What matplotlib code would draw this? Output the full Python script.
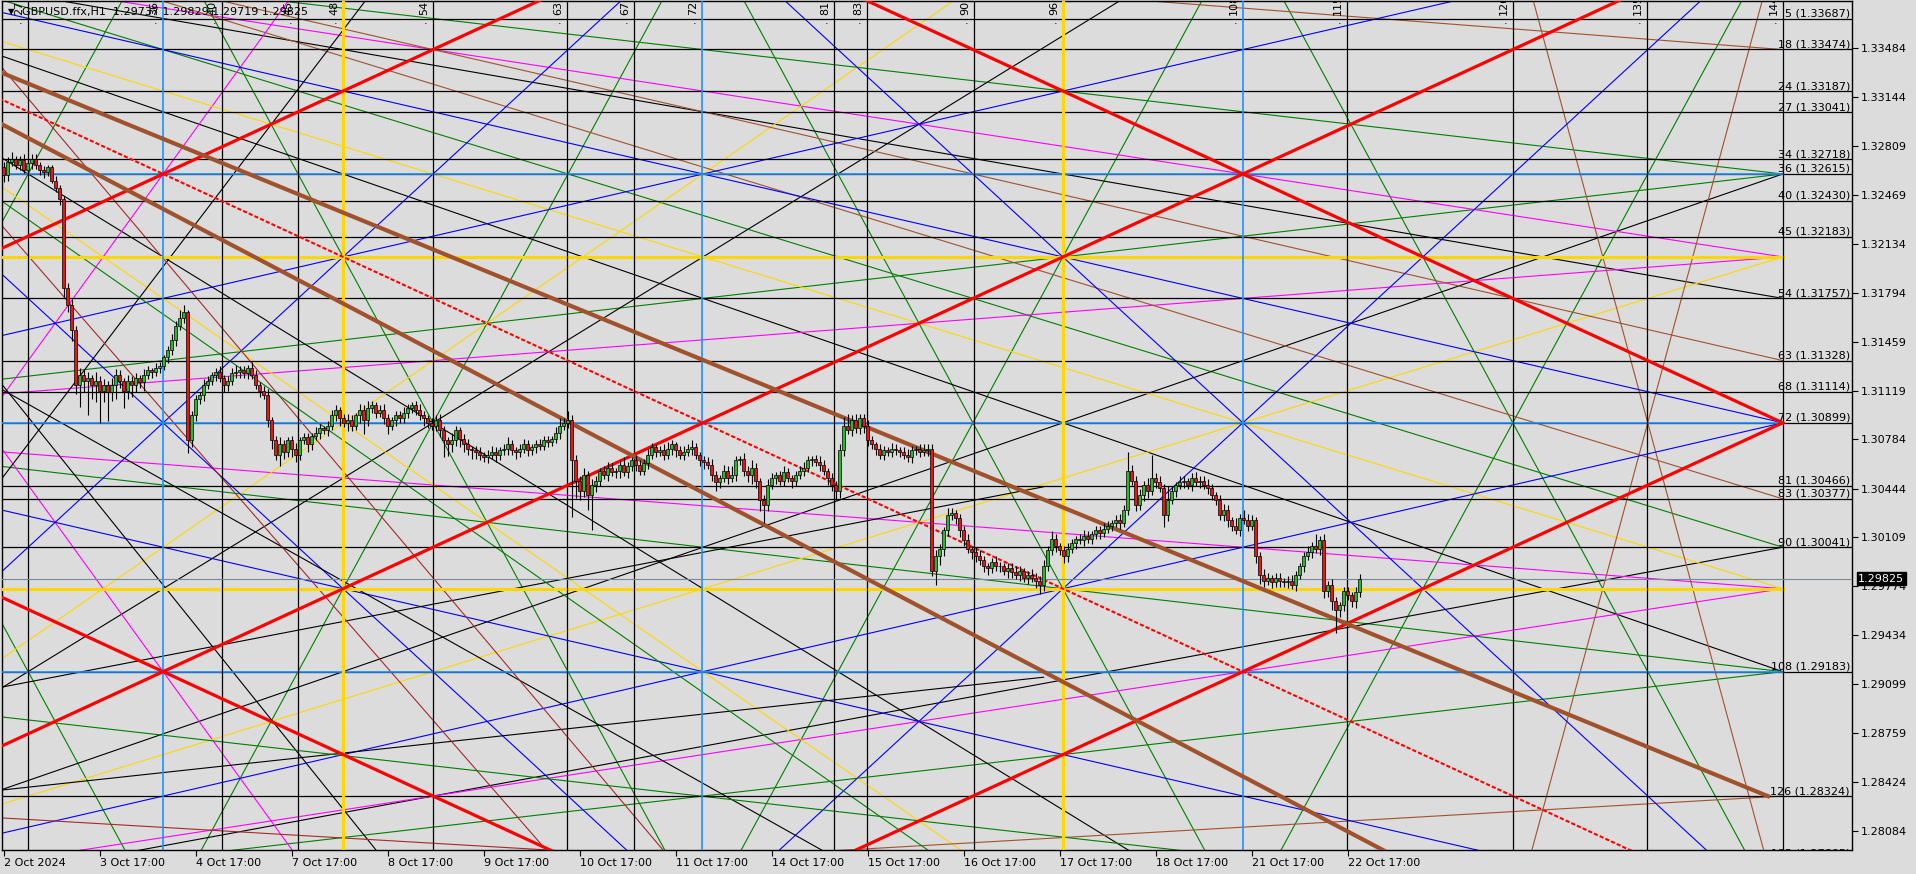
import numpy as np
import matplotlib
matplotlib.use('Agg')
import matplotlib.pyplot as plt

# ---- H1 candles, closes in pips above 1.3000 ----
closes_pips = [
    261, 270, 272, 268, 271, 264, 269, 272, 268, 264, 263, 266, 257, 252, 244, 183, 171, 154, 116, 123,
    119, 121, 116, 119, 112, 116, 111, 116, 123, 119, 112, 119, 116, 121, 118, 123, 126, 125, 128, 129,
    135, 140, 147, 157, 162, 166, 78, 95, 106, 109, 116, 119, 123, 125, 121, 116, 119, 124, 125, 126,
    124, 128, 123, 116, 112, 109, 92, 78, 68, 75, 70, 78, 72, 68, 78, 80, 75, 81, 83, 86,
    85, 88, 95, 99, 93, 90, 92, 88, 95, 99, 92, 100, 102, 97, 99, 93, 88, 92, 95, 93,
    97, 100, 102, 99, 95, 93, 90, 88, 92, 85, 78, 75, 78, 85, 79, 75, 72, 71, 70, 68,
    66, 68, 70, 68, 71, 72, 75, 71, 70, 72, 75, 71, 73, 75, 74, 78, 77, 79, 83, 88,
    90, 92, 64, 50, 43, 54, 40, 47, 50, 57, 54, 59, 56, 57, 61, 56, 60, 64, 61, 57,
    62, 68, 73, 70, 71, 68, 72, 75, 71, 68, 70, 72, 73, 68, 64, 63, 61, 54, 49, 52,
    57, 52, 54, 64, 65, 57, 54, 59, 50, 37, 33, 47, 52, 54, 50, 56, 52, 50, 54, 57,
    59, 64, 65, 63, 61, 57, 52, 47, 43, 71, 88, 85, 92, 86, 93, 88, 78, 75, 72, 68,
    71, 70, 72, 71, 70, 68, 66, 71, 72, 70, 71, 72, -12, -2, 3, 16, 26, 28, 24, 16,
    9, 3, 1, -2, -5, -9, -10, -6, -9, -9, -12, -10, -13, -15, -12, -17, -15, -17, -19, -22,
    -9, 2, 10, 5, 2, -2, 3, 7, 10, 9, 12, 10, 13, 16, 14, 17, 19, 21, 23, 21,
    30, 57, 50, 33, 40, 47, 43, 52, 49, 45, 26, 37, 43, 47, 49, 50, 47, 52, 49, 50,
    47, 45, 40, 37, 26, 30, 23, 19, 16, 24, 23, 19, 23, -2, -15, -19, -17, -20, -17, -19,
    -20, -19, -22, -15, -9, -2, 1, 5, 3, 9, -26, -22, -33, -39, -36, -26, -29, -33, -27, -17.5,
]
upper_wick = [
    4, 3, 5, 2, 3, 4, 2, 3, 3, 2, 3, 2, 2, 3, 2, 2, 3, 4, 3, 5,
    3, 4, 2, 6, 3, 4, 3, 5, 4, 3, 2, 4, 3, 3, 2, 4, 3, 2, 3, 3,
    2, 3, 4, 3, 6, 5, 2, 3, 3, 2, 4, 3, 2, 3, 4, 2, 3, 4, 5, 3,
    3, 2, 4, 3, 2, 3, 4, 2, 3, 5, 3, 2, 3, 4, 2, 3, 3, 2, 4, 3,
    2, 3, 4, 3, 2, 3, 4, 3, 2, 4, 3, 5, 3, 2, 3, 4, 3, 2, 3, 3,
    4, 3, 2, 3, 4, 3, 2, 3, 3, 4, 3, 2, 5, 3, 2, 3, 4, 2, 3, 3,
    2, 3, 4, 3, 2, 3, 5, 3, 2, 3, 4, 3, 2, 3, 4, 3, 3, 2, 4, 5,
    3, 6, 3, 4, 3, 5, 3, 4, 3, 2, 3, 4, 3, 2, 3, 5, 3, 2, 4, 3,
    3, 4, 3, 2, 3, 4, 5, 3, 2, 3, 4, 3, 5, 3, 2, 3, 3, 4, 3, 2,
    4, 3, 6, 3, 2, 4, 3, 5, 3, 2, 3, 4, 3, 2, 3, 4, 3, 2, 3, 3,
    4, 3, 2, 3, 4, 3, 2, 3, 3, 4, 6, 8, 3, 4, 3, 3, 4, 3, 2, 3,
    3, 2, 4, 3, 2, 3, 4, 3, 2, 3, 4, 3, 3, 4, 3, 2, 5, 3, 2, 3,
    3, 4, 2, 3, 4, 3, 2, 3, 4, 3, 2, 3, 3, 4, 3, 2, 3, 4, 3, 3,
    4, 3, 5, 3, 2, 3, 4, 3, 2, 3, 4, 3, 2, 3, 3, 4, 3, 2, 3, 4,
    3, 13, 4, 3, 4, 3, 5, 16, 3, 4, 3, 9, 3, 2, 4, 3, 2, 3, 4, 3,
    3, 4, 3, 2, 3, 4, 3, 2, 5, 3, 6, 4, 3, 2, 3, 4, 3, 2, 3, 3,
    2, 3, 4, 3, 2, 3, 4, 3, 8, 3, 4, 3, 4, 3, 2, 3, 3, 2, 4, 3,
]
lower_wick = [
    5, 4, 3, 3, 4, 2, 3, 4, 3, 3, 4, 3, 2, 3, 4, 6, 5, 8, 6, 15,
    8, 24, 10, 12, 22, 8, 20, 6, 10, 5, 12, 6, 8, 5, 4, 6, 3, 4, 3, 4,
    3, 4, 3, 4, 3, 3, 9, 5, 4, 3, 4, 3, 3, 4, 3, 5, 4, 3, 3, 4,
    3, 4, 3, 3, 4, 3, 5, 6, 4, 8, 5, 4, 6, 5, 4, 3, 5, 4, 3, 4,
    3, 4, 3, 4, 5, 3, 6, 4, 3, 5, 10, 4, 3, 4, 3, 4, 6, 3, 4, 3,
    3, 4, 3, 4, 3, 5, 4, 3, 4, 5, 12, 8, 5, 4, 6, 5, 4, 6, 5, 4,
    3, 4, 3, 5, 4, 3, 4, 3, 5, 4, 3, 4, 3, 4, 3, 3, 4, 3, 3, 4,
    3, 4, 39, 12, 6, 4, 10, 24, 5, 4, 3, 4, 3, 4, 5, 3, 4, 3, 4, 3,
    3, 4, 3, 4, 3, 4, 3, 4, 5, 3, 4, 3, 4, 3, 4, 5, 3, 4, 6, 4,
    3, 4, 3, 4, 3, 4, 5, 6, 5, 8, 12, 4, 3, 4, 3, 4, 3, 5, 4, 3,
    4, 3, 4, 3, 4, 3, 5, 4, 6, 5, 4, 3, 4, 3, 4, 5, 4, 3, 4, 3,
    4, 3, 4, 3, 4, 3, 3, 4, 3, 4, 3, 4, 4, 10, 6, 5, 4, 3, 4, 5,
    4, 3, 5, 4, 3, 4, 5, 4, 3, 4, 3, 5, 4, 3, 4, 3, 4, 3, 5, 6,
    4, 3, 3, 4, 3, 5, 4, 3, 4, 3, 4, 3, 4, 3, 4, 3, 3, 4, 3, 4,
    3, 4, 3, 4, 3, 4, 5, 3, 4, 3, 8, 4, 3, 4, 3, 4, 3, 4, 3, 4,
    3, 4, 3, 4, 3, 4, 5, 4, 3, 4, 3, 4, 3, 5, 6, 4, 3, 4, 3, 4,
    3, 4, 3, 4, 3, 4, 3, 4, 3, 4, 5, 4, 6, 16, 5, 4, 3, 4, 5, 3,
]
first_open_pips = 266
last_price = 1.29825

date_labels = ['2 Oct 2024', '3 Oct 17:00', '4 Oct 17:00', '7 Oct 17:00', '8 Oct 17:00',
               '9 Oct 17:00', '10 Oct 17:00', '11 Oct 17:00', '14 Oct 17:00', '15 Oct 17:00',
               '16 Oct 17:00', '17 Oct 17:00', '18 Oct 17:00', '21 Oct 17:00', '22 Oct 17:00']
date_bars = [0, 24, 48, 72, 96, 120, 144, 168, 192, 216, 240, 264, 288, 312, 336]

price_ticks = [1.33484, 1.33144, 1.32809, 1.32469, 1.32134, 1.31794, 1.31459, 1.31119, 1.30784,
               1.30444, 1.30109, 1.29774, 1.29434, 1.29099, 1.28759, 1.28424, 1.28084]

# Gann levels (number, price) shown on the right
level_num = [5, 18, 24, 27, 34, 36, 40, 45, 54, 63, 68, 72, 81, 83, 90, 108, 126, 135]
level_price = [1.33687, 1.33474, 1.33187, 1.33041, 1.32718, 1.32615, 1.32430, 1.32183, 1.31757,
               1.31328, 1.31114, 1.30899, 1.30466, 1.30377, 1.30041, 1.29183, 1.28324, 1.27895]

# Gann time lines (number, bar position)
vert_num = [27, 36, 40, 45, 48, 54, 63, 67, 72, 81, 83, 90, 96, 108, 115, 126, 135, 144]
vert_bar = [6.1, 39.9, 54.6, 73.6, 84.9, 107.4, 140.9, 157.6, 174.6, 207.6, 215.9, 242.6,
            264.9, 309.9, 335.9, 377.4, 410.9, 444.9]
blue_num = [36, 72, 108]
gold_num = [48, 96]

# fan lines: (time number, level number, level units per time unit)
red_fans = [(36, 36, -1), (36, 108, 1), (36, 108, -1), (108, 36, 1), (108, 108, -1)]
red_dotted = [(36, 36, 1)]
blue_fans = [(144, 72, 0.5), (144, 72, -0.5), (72, 108, 0.5), (72, 36, -0.5),
             (36, 72, 2), (36, 72, -2), (108, 72, 2), (108, 72, -2)]
green_fans = [(144, 36, 0.25), (144, 36, -0.25), (144, 108, 0.25), (144, 108, -0.25),
              (144, 90, 2 / 3), (18, 72, 4), (18, 72, -4), (54, 72, 4), (54, 72, -4),
              (90, 72, 4), (90, 72, -4), (126, 72, 4), (126, 72, -4)]
black_fans = [(144, 36, -0.75), (144, 108, 0.75), (144, 54, 0.375), (144, 90, -0.4),
              (54, 72, 4 / 3), (54, 72, -4 / 3)]
magenta_fans = [(144, 48, 1 / 3), (144, 48, -1 / 6), (144, 96, 1 / 6), (144, 96, -1 / 3),
                (36, 36, -3), (36, 108, 3)]
yellow_fans = [(144, 48, -2 / 3), (144, 96, 2 / 3), (0, 0, 1.5), (0, 144, -1.5)]
brown_fans = [(144, 63, 0.5), (144, 83, 2 / 3), (144, 18, 1 / 6), (144, 126, -1 / 8),
              (135, 72, 8), (135, 72, -8)]
yellow_levels = [48, 96]

# other thin lines: (bar, price, bar, price, last bar drawn)
black_lines = [(34.85, 1.29953, 93.1, 1.27953, 444.9), (-0.28, 1.29077, 164.85, 1.29953, 260),
               (-0.28, 1.28367, 249.1, 1.29112, 260), (-0.15, 1.31125, 39.85, 1.30505, 444.9),
               (-0.15, 1.30525, 65.85, 1.32918, 444.9)]
brown_lines = [(103.6, 1.29953, 164.85, 1.27953, 444.9), (-0.15, 1.32250, 39.1, 1.31008, 444.9),
               (-0.28, 1.28174, 136.1, 1.27953, 444.9)]
green_lines = [(-0.28, 1.28870, 249.1, 1.28091, 444.9), (-0.15, 1.32422, 49.1, 1.31470, 444.9)]

# thick brown channel lines (bar, price, bar, price)
brown_a = (-0.9, 1.33318, 441.1, 1.28324)
brown_b = (2.35, 1.32918, 344.35, 1.27960)

BG = '#DCDCDC'
X0, X1 = -0.4, 462.1
Y0, Y1 = 1.27953, 1.33808

# mapping of Gann numbers to chart values, from the labelled lines
v2p = np.poly1d(np.polyfit([36, 72, 108],
                           [level_price[level_num.index(n)] for n in (36, 72, 108)], 1))
u2b = np.poly1d(np.polyfit(vert_num, vert_bar, 1))
END = u2b(144)

fig = plt.figure(figsize=(19.16, 8.74), dpi=100, facecolor=BG)
ax = fig.add_axes([2 / 1916, 24 / 874, 1850 / 1916, 849 / 874])
ax.set_facecolor(BG)
ax.set_xlim(X0, X1)
ax.set_ylim(Y0, Y1)


def full_line(b0, p0, b1, p1, end=END, **kw):
    s = (p1 - p0) / (b1 - b0)
    xs = np.array([X0 - 1, end])
    ax.plot(xs, p0 + s * (xs - b0), **kw)


def fan(u, v, k, **kw):
    full_line(u2b(u), v2p(v), u2b(u + 1), v2p(v + k), **kw)


# thin fans and lines
for lst, col in [(green_fans, '#008000'), (black_fans, 'black'), (magenta_fans, '#FF00FF'),
                 (yellow_fans, '#FFD700'), (brown_fans, '#A0522D'), (blue_fans, '#0000FF')]:
    for u, v, k in lst:
        fan(u, v, k, color=col, lw=0.8, zorder=2)
for lst, col in [(black_lines, 'black'), (brown_lines, '#A52A2A'), (green_lines, '#008000')]:
    for b0, p0, b1, p1, e in lst:
        full_line(b0, p0, b1, p1, end=e, color=col, lw=0.8, zorder=2)

# horizontal levels
for n, p in zip(level_num, level_price):
    ax.axhline(p, color='black', lw=0.9, zorder=3)
    ax.text(461.6, p, f'{n} ({p:.5f})', ha='right', va='bottom', fontsize=8,
            color='black', zorder=7, clip_on=True)
for n in blue_num:
    ax.plot([X0, END], [v2p(n), v2p(n)], color='#1E90FF', lw=1.2, zorder=3)
for n in yellow_levels:
    ax.plot([X0, END], [v2p(n), v2p(n)], color='#FFD700', lw=2.2, zorder=3)

# vertical time lines
top_lab = Y1 - (Y1 - Y0) * 14 / 849
dot_y = Y1 - (Y1 - Y0) * 20 / 849
for n, b in zip(vert_num, vert_bar):
    if n in blue_num:
        ax.axvline(b, color='#1E90FF', lw=1.2, zorder=3)
    elif n in gold_num:
        ax.axvline(b, color='#FFD700', lw=2.2, zorder=3)
    else:
        ax.axvline(b, color='black', lw=0.9, zorder=3)
    ax.text(b - 2.3, top_lab, str(n), rotation=90, ha='center', va='bottom',
            fontsize=8, zorder=7, clip_on=True)
    ax.text(b - 1.8, dot_y, '.', ha='center', va='center', fontsize=8, zorder=7)

# red Gann 1x1 lines
for u, v, k in red_fans:
    fan(u, v, k, color='#FF0000', lw=2.3, zorder=4)
for u, v, k in red_dotted:
    fan(u, v, k, color='#FF0000', lw=1.5, ls=(0, (2, 1)), zorder=4)

# brown channel
ax.plot([brown_a[0], brown_a[2]], [brown_a[1], brown_a[3]], color='#A0522D', lw=3.0, zorder=4)
full_line(*brown_b, color='#A0522D', lw=3.0, zorder=4)

# current price line
ax.axhline(last_price, color='#778899', lw=0.8, zorder=3)

# candles
closes = 1.3 + np.array(closes_pips) / 1e4
opens = np.concatenate([[1.3 + first_open_pips / 1e4], closes[:-1]])
highs = np.maximum(opens, closes) + np.array(upper_wick) / 1e4
lows = np.minimum(opens, closes) - np.array(lower_wick) / 1e4
bars = np.arange(len(closes))
ax.vlines(bars, lows, highs, color='black', lw=0.8, zorder=5)
up = closes >= opens
ax.bar(bars[up], (closes - opens)[up], bottom=opens[up], width=0.75, color='#32B432',
       edgecolor='black', linewidth=0.5, zorder=6)
ax.bar(bars[~up], (closes - opens)[~up], bottom=opens[~up], width=0.75, color='#E01818',
       edgecolor='black', linewidth=0.5, zorder=6)

# axes styling
for s in ax.spines.values():
    s.set_color('black')
    s.set_linewidth(1)
ax.yaxis.tick_right()
ax.set_yticks(price_ticks)
ax.set_yticklabels([f'{p:.5f}' for p in price_ticks])
ax.set_xticks(date_bars)
ax.set_xticklabels(date_labels)
for lab in ax.get_xticklabels():
    lab.set_ha('left')
ax.tick_params(axis='both', direction='out', length=4, width=0.8, labelsize=8,
               colors='black', pad=2)

# price box
ax.annotate(f'{last_price:.5f}', xy=(1, last_price), xycoords=('axes fraction', 'data'),
            xytext=(4.5, 0), textcoords='offset points', ha='left', va='center',
            fontsize=8, color='white', zorder=8,
            bbox=dict(boxstyle='square,pad=0.15', fc='black', ec='black'))

# header
fig.text(8 / 1916, 1 - 12 / 874, '\u25BC', fontsize=6, va='center', color='black')
fig.text(22 / 1916, 1 - 12 / 874, 'GBPUSD.ffx,H1  1.29737 1.29829 1.29719 1.29825',
         fontsize=8, va='center', color='black')

fig.savefig('out.png', dpi=100, facecolor=BG)
